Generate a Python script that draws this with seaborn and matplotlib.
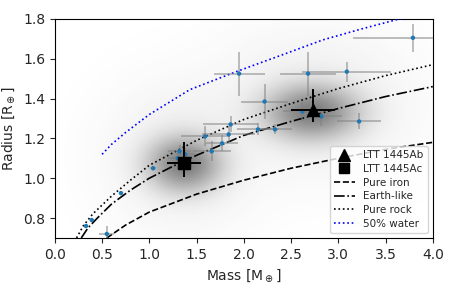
import numpy as np
import matplotlib
matplotlib.use("Agg")
import matplotlib.pyplot as plt
from matplotlib.lines import Line2D
import seaborn as sns

sns.set_style("ticks")
plt.rcParams['font.family'] = ['DejaVu Sans']

# Known small planets (mass [M_earth], radius [R_earth], errors)
known_mass = [3.79, 1.95, 2.68, 3.09, 2.22, 2.62, 2.82, 3.22, 1.86, 2.15, 2.33,
              1.84, 1.59, 1.77, 1.66, 1.32, 1.38, 1.30, 1.04, 0.70, 0.39, 0.33, 0.55]
known_radius = [1.705, 1.525, 1.525, 1.535, 1.385, 1.335, 1.31, 1.285, 1.27, 1.245, 1.245,
                1.22, 1.21, 1.175, 1.135, 1.135, 1.12, 1.10, 1.05, 0.925, 0.79, 0.76, 0.72]
known_mass_err = [0.63, 0.27, 0.30, 0.47, 0.25, 0.20, 0.22, 0.23, 0.29, 0.22, 0.18,
                  0.28, 0.26, 0.17, 0.20, 0.12, 0.10, 0.10, 0.03, 0.02, 0.02, 0.02, 0.08]
known_radius_err = [0.07, 0.11, 0.11, 0.05, 0.09, 0.05, 0.05, 0.04, 0.04, 0.03, 0.025,
                    0.04, 0.05, 0.04, 0.05, 0.03, 0.03, 0.03, 0.01, 0.01, 0.01, 0.01, 0.04]

# LTT 1445 planets
ltt_names = ["LTT 1445Ab", "LTT 1445Ac"]
ltt_mass = [2.73, 1.37]
ltt_mass_err = [0.23, 0.18]
ltt_radius = [1.34, 1.075]
ltt_radius_err_lo = [0.06, 0.07]
ltt_radius_err_hi = [0.11, 0.105]
ltt_markers = ["^", "s"]

# posterior clouds (centre and spread)
cloud_mass = [2.72, 1.37]
cloud_radius = [1.33, 1.07]
cloud_sig_mass = [0.27, 0.21]
cloud_sig_radius = [0.075, 0.075]

# composition curves
iron_mass = [0.55, 0.75, 1.0, 1.5, 2.0, 2.5, 3.0, 3.5, 4.0]
iron_radius = [0.70, 0.765, 0.83, 0.92, 0.99, 1.05, 1.10, 1.145, 1.18]
earth_mass = [0.28, 0.35, 0.45, 0.6, 0.8, 1.0, 1.25, 1.5, 2.0, 2.5, 3.0, 3.5, 4.0]
earth_radius = [0.70, 0.75, 0.80, 0.87, 0.94, 1.0, 1.06, 1.115, 1.215, 1.285, 1.35, 1.41, 1.46]
rock_mass = [0.23, 0.3, 0.4, 0.6, 0.8, 1.0, 1.5, 2.0, 2.5, 3.0, 3.5, 4.0]
rock_radius = [0.70, 0.76, 0.82, 0.91, 0.99, 1.065, 1.19, 1.295, 1.375, 1.45, 1.515, 1.57]
water_mass = [0.5, 0.6, 0.75, 1.0, 1.43, 1.92, 2.41, 2.84, 3.25, 3.65, 3.8]
water_radius = [1.12, 1.17, 1.23, 1.32, 1.445, 1.535, 1.62, 1.695, 1.75, 1.80, 1.82]

fig = plt.figure(figsize=(4.57, 2.86), dpi=100)
ax = fig.add_axes([0.120, 0.168, 0.827, 0.766])

# shaded density of the posterior clouds
gx = np.linspace(0, 4, 500)
gy = np.linspace(0.7, 1.8, 300)
X, Y = np.meshgrid(gx, gy)
dens = np.zeros_like(X)
for m0, r0, sm, sr in zip(cloud_mass, cloud_radius, cloud_sig_mass, cloud_sig_radius):
    dens += np.exp(-0.5 * (((X - m0) / sm) ** 2 + ((Y - r0) / sr) ** 2))
    dens += 0.03 * np.exp(-0.5 * (((X - m0) / (2.0 * sm)) ** 2 + ((Y - r0 - 0.04) / (2.5 * sr)) ** 2))
alpha = 0.68 * (dens / dens.max()) ** 0.55
rgba = np.zeros(X.shape + (4,))
rgba[..., :3] = 0.25
rgba[..., 3] = alpha
ax.imshow(rgba, extent=(0, 4, 0.7, 1.8), origin="lower", aspect="auto",
          interpolation="bilinear", zorder=1)

sns.lineplot(x=iron_mass, y=iron_radius, color="k", linestyle="--", lw=1.2, ax=ax, zorder=3)
sns.lineplot(x=earth_mass, y=earth_radius, color="k", linestyle="-.", lw=1.2, ax=ax, zorder=3)
sns.lineplot(x=rock_mass, y=rock_radius, color="k", linestyle=":", lw=1.2, ax=ax, zorder=3)
sns.lineplot(x=water_mass, y=water_radius, color="blue", linestyle=":", lw=1.2, ax=ax, zorder=3)

ax.errorbar(known_mass, known_radius, xerr=known_mass_err, yerr=known_radius_err,
            fmt="none", ecolor="gray", alpha=0.55, elinewidth=1.3, zorder=4)
sns.scatterplot(x=known_mass, y=known_radius, color="#1f77b4", s=10, edgecolor="none",
                ax=ax, zorder=5)

for i in range(2):
    ax.errorbar(ltt_mass[i], ltt_radius[i], xerr=ltt_mass_err[i],
                yerr=[[ltt_radius_err_lo[i]], [ltt_radius_err_hi[i]]],
                fmt=ltt_markers[i], color="k", ms=8, elinewidth=1.4, zorder=6)

ax.set_xlim(0, 4)
ax.set_ylim(0.7, 1.8)
ax.set_xticks(np.arange(0, 4.01, 0.5))
ax.set_yticks([0.8, 1.0, 1.2, 1.4, 1.6, 1.8])
ax.tick_params(labelsize=10, length=3.5, width=0.8)
ax.set_xlabel(r"Mass [M$_\oplus$]", fontsize=10)
ax.set_ylabel(r"Radius [R$_\oplus$]", fontsize=10)
for s in ax.spines.values():
    s.set_linewidth(0.8)
    s.set_color("k")

handles = [
    Line2D([], [], marker="^", color="k", ls="none", ms=8),
    Line2D([], [], marker="s", color="k", ls="none", ms=7),
    Line2D([], [], color="k", ls="--", lw=1.2),
    Line2D([], [], color="k", ls="-.", lw=1.2),
    Line2D([], [], color="k", ls=":", lw=1.2),
    Line2D([], [], color="blue", ls=":", lw=1.2),
]
labels = ltt_names + ["Pure iron", "Earth-like", "Pure rock", "50% water"]
ax.legend(handles, labels, loc="lower right", fontsize=7.5, frameon=True,
          handlelength=2.0, labelspacing=0.35, borderpad=0.4, handletextpad=0.8)

fig.savefig("out.png", dpi=100)
